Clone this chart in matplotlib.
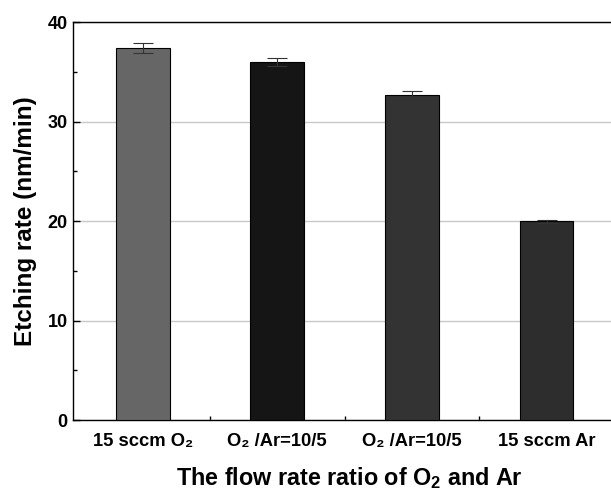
import matplotlib
matplotlib.use("Agg")
import matplotlib.pyplot as plt
from matplotlib.ticker import MultipleLocator, FixedLocator

plt.rcParams['font.family'] = ['Liberation Sans', 'DejaVu Sans']
plt.rcParams['mathtext.fontset'] = 'custom'
plt.rcParams['mathtext.rm'] = 'Liberation Sans:bold'
plt.rcParams['mathtext.bf'] = 'Liberation Sans:bold'

categories = ["15 sccm O\u2082", "O\u2082 /Ar=10/5", "O\u2082 /Ar=10/5", "15 sccm Ar"]
values = [37.4, 36.0, 32.7, 20.0]
errors = [0.5, 0.4, 0.35, 0.15]
colors = ["#666666", "#151515", "#333333", "#2d2d2d"]

fig = plt.figure(figsize=(6.11, 4.92), dpi=100)
ax = fig.add_axes([0.119, 0.146, 0.890, 0.809])

x = list(range(1, len(categories) + 1))
ax.yaxis.grid(True, color="#c8c8c8", linewidth=1.0)
ax.set_axisbelow(True)
ax.bar(x, values, width=0.4, color=colors, edgecolor="black", linewidth=0.8,
       yerr=errors, error_kw=dict(ecolor="#333333", elinewidth=0.8, capsize=7, capthick=0.8), zorder=3)

ax.set_xlim(0.48, 4.52)
ax.set_ylim(0, 40)
ax.set_xticks(x)
ax.set_xticklabels(categories, fontsize=13.2, fontweight='bold')
ax.xaxis.set_minor_locator(FixedLocator([1.5, 2.5, 3.5]))
ax.yaxis.set_major_locator(MultipleLocator(10))
ax.yaxis.set_minor_locator(MultipleLocator(5))
for lab in ax.get_yticklabels():
    lab.set_fontweight('bold')
    lab.set_fontsize(13)
ax.tick_params(axis='both', which='both', direction='in', top=False, right=False)
ax.tick_params(axis='both', which='major', length=5, width=1)
ax.tick_params(axis='both', which='minor', length=3, width=1)
ax.tick_params(axis='x', pad=9)
ax.spines['right'].set_visible(False)
for s in ax.spines.values():
    s.set_linewidth(1.0)

ax.set_ylabel("Etching rate (nm/min)", fontsize=17.5, fontweight='bold', labelpad=8)
ax.set_xlabel(r"The flow rate ratio of O$_\mathbf{2}$ and Ar", fontsize=16.8, fontweight='bold')
ax.xaxis.set_label_coords(0.509, -0.163, transform=ax.transAxes)
ax.xaxis.label.set_verticalalignment('baseline')

fig.savefig("out.png", dpi=100)
